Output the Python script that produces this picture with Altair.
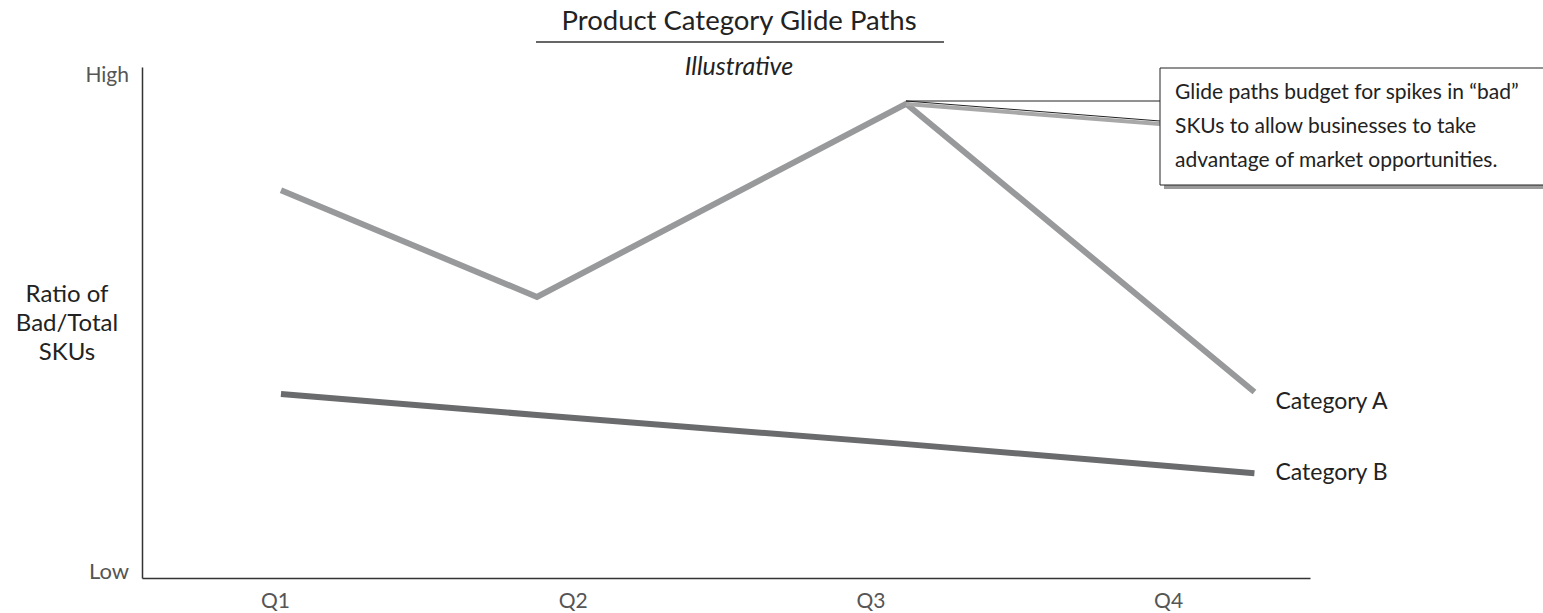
import altair as alt
import pandas as pd

# ---------------- data ----------------
quarters = ["Q1", "Q2", "Q3", "Q4"]
quarter_pos = [1, 2, 3, 4]
# horizontal position (in quarter units) of each drawn vertex
point_pos = [1.02, 1.88, 3.12, 4.29]
series_names = ["Category A", "Category B"]
cat_a = [0.759, 0.550, 0.928, 0.364]
cat_b = [0.360, 0.319, 0.262, 0.205]
label_y = [0.345, 0.205]
series_colors = ["#98999b", "#6a6b6d"]
y_labels = ["Low", "High"]
title_text = "Product Category Glide Paths"
subtitle_text = "Illustrative"
y_title_lines = ["Ratio of", "Bad/Total", "SKUs"]
note_lines = [
    "Glide paths budget for spikes in \u201cbad\u201d",
    "SKUs to allow businesses to take",
    "advantage of market opportunities.",
]

# ---------------- layout ----------------
FONT = "Lato"
LEFT, TOP = 142, 67
RIGHT_EDGE = 1310
W, H = RIGHT_EDGE - LEFT, 511
Q1_PX, UNIT = 275, 297.7


def px_to_x(px):
    return 1 + (px - Q1_PX) / UNIT


def px_to_y(py):
    return (TOP + H - py) / H


x_dom = [px_to_x(LEFT), px_to_x(RIGHT_EDGE)]

rows = []
for name, vals in zip(series_names, [cat_a, cat_b]):
    for p, v in zip(point_pos, vals):
        rows.append({"series": name, "pos": p, "value": v})
df = pd.DataFrame(rows)

xscale = alt.Scale(domain=x_dom, nice=False, zero=False)
yscale = alt.Scale(domain=[0, 1], nice=False, zero=False)
label_expr = "[" + ",".join(["''"] + [f"'{q}'" for q in quarters]) + "][datum.value]"

color = alt.Color(
    "series:N",
    scale=alt.Scale(domain=series_names, range=series_colors),
    legend=None,
)

lines = alt.Chart(df).mark_line(strokeWidth=6, strokeCap="butt", strokeJoin="miter").encode(
    x=alt.X(
        "pos:Q",
        scale=xscale,
        title=None,
        axis=alt.Axis(
            values=quarter_pos,
            labelExpr=label_expr,
            grid=False,
            ticks=False,
            domainColor="#333333",
            domainWidth=1.5,
            labelFont=FONT,
            labelFontSize=21,
            labelColor="#555555",
            labelPadding=12,
        ),
    ),
    y=alt.Y(
        "value:Q",
        scale=yscale,
        title=None,
        axis=alt.Axis(
            values=[],
            grid=False,
            ticks=False,
            labels=False,
            domainColor="#333333",
            domainWidth=1.5,
        ),
    ),
    color=color,
    detail="series:N",
)

# series labels at line ends
lab_df = pd.DataFrame(
    {"series": series_names, "pos": [point_pos[-1]] * 2, "value": label_y}
)
series_labels = alt.Chart(lab_df).mark_text(
    align="left", baseline="middle", dx=21, font=FONT, fontSize=23, color="#222222"
).encode(x=alt.X("pos:Q", scale=xscale), y=alt.Y("value:Q", scale=yscale), text="series:N")

# High / Low labels on y axis
hl_df = pd.DataFrame({"value": [0, 1], "txt": y_labels})
high = alt.Chart(hl_df[hl_df.value == 1]).mark_text(
    align="right", baseline="top", dx=-13, dy=-2, font=FONT, fontSize=21, color="#555555"
).encode(x=alt.value(0), y=alt.Y("value:Q", scale=yscale), text="txt:N")
low = alt.Chart(hl_df[hl_df.value == 0]).mark_text(
    align="right", baseline="alphabetic", dx=-13, dy=1, font=FONT, fontSize=22, color="#555555"
).encode(x=alt.value(0), y=alt.Y("value:Q", scale=yscale), text="txt:N")

# y title (horizontal, three lines), first line anchored
ytitle = alt.Chart(pd.DataFrame({"value": [px_to_y(295)]})).mark_text(
    text=y_title_lines, align="center", baseline="middle", lineHeight=29,
    font=FONT, fontSize=24, color="#222222",
).encode(x=alt.value(67 - LEFT), y=alt.Y("value:Q", scale=yscale))

# title, underline, subtitle
one = pd.DataFrame({"a": [0]})
title = alt.Chart(one).mark_text(
    text=title_text, align="center", baseline="middle", font=FONT, fontSize=27.5, color="#222222"
).encode(x=alt.value(739 - LEFT), y=alt.value(22 - TOP))
underline = alt.Chart(one).mark_rule(color="#333333", strokeWidth=1.5).encode(
    x=alt.value(536 - LEFT), x2=alt.value(944 - LEFT), y=alt.value(42 - TOP)
)
subtitle = alt.Chart(one).mark_text(
    text=subtitle_text, align="center", baseline="middle", font=FONT, fontSize=25,
    fontStyle="italic", color="#222222",
).encode(x=alt.value(739 - LEFT), y=alt.value(0))

# callout box
tip_x, tip_y = point_pos[2], cat_a[2]
box = {"x": px_to_x(1160), "x2": px_to_x(1560), "y": px_to_y(68), "y2": px_to_y(185)}
box_df = pd.DataFrame([box])
box_shadow = alt.Chart(box_df).mark_rect(color="#9a9a9a", xOffset=4, x2Offset=4, yOffset=4, y2Offset=4).encode(
    x=alt.X("x:Q", scale=xscale), x2="x2:Q", y=alt.Y("y:Q", scale=yscale), y2="y2:Q"
)
box_rect = alt.Chart(box_df).mark_rect(fill="white", stroke="#222222", strokeWidth=1).encode(
    x=alt.X("x:Q", scale=xscale), x2="x2:Q", y=alt.Y("y:Q", scale=yscale), y2="y2:Q"
)
ptr_df = pd.DataFrame(
    [
        {"x": tip_x, "y": px_to_y(101), "x2": px_to_x(1160), "y2": px_to_y(101), "k": "top"},
        {"x": tip_x, "y": px_to_y(101), "x2": px_to_x(1160), "y2": px_to_y(121), "k": "low"},
    ]
)
ptr_shadow = alt.Chart(ptr_df[ptr_df.k == "low"]).mark_rule(color="#a8a8a8", strokeWidth=4, yOffset=3, y2Offset=3).encode(
    x=alt.X("x:Q", scale=xscale), x2="x2:Q", y=alt.Y("y:Q", scale=yscale), y2="y2:Q"
)
ptr = alt.Chart(ptr_df).mark_rule(color="#222222", strokeWidth=1).encode(
    x=alt.X("x:Q", scale=xscale), x2="x2:Q", y=alt.Y("y:Q", scale=yscale), y2="y2:Q"
)
note = alt.Chart(pd.DataFrame({"x": [px_to_x(1175)], "y": [px_to_y(93)]})).mark_text(
    text=note_lines, align="left", baseline="middle", lineHeight=34,
    font=FONT, fontSize=21, color="#222222",
).encode(x=alt.X("x:Q", scale=xscale), y=alt.Y("y:Q", scale=yscale))

chart = alt.layer(
    lines, series_labels, high, low, ytitle, title, underline, subtitle,
    ptr_shadow, box_shadow, box_rect, ptr, note,
).properties(
    width=W,
    height=H,
    background="white",
    padding={"left": LEFT, "top": TOP, "right": 1543 - RIGHT_EDGE, "bottom": 613 - TOP - H},
    autosize=alt.AutoSizeParams(type="none"),
).configure_view(stroke=None)

chart.save("out.html", embed_options={"renderer": "svg", "actions": False})
